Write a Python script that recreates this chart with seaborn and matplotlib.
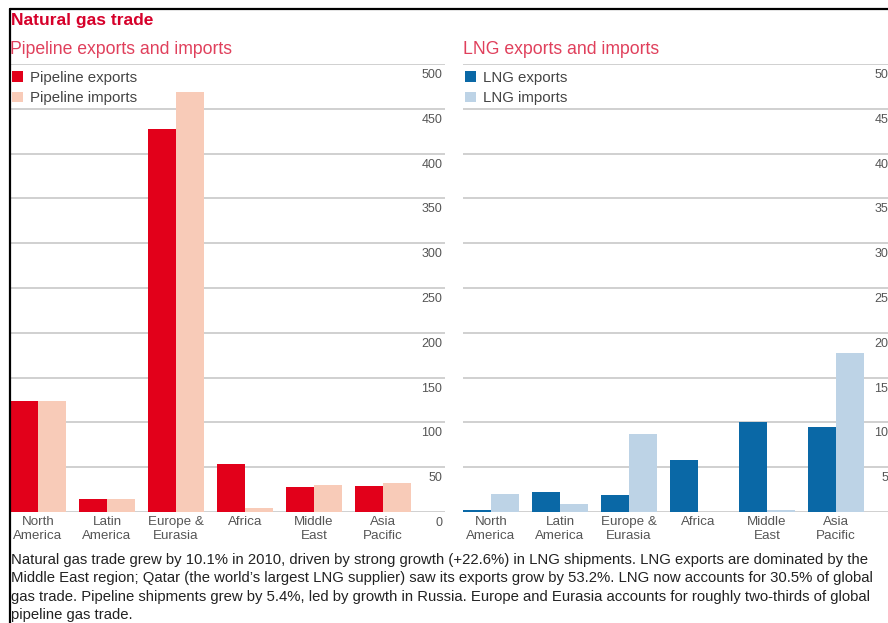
import matplotlib
matplotlib.use("Agg")
import matplotlib.pyplot as plt
import matplotlib.transforms as mtrans
from matplotlib.lines import Line2D
import seaborn as sns
import pandas as pd

regions = ["North\nAmerica", "Latin\nAmerica", "Europe &\nEurasia", "Africa", "Middle\nEast", "Asia\nPacific"]
pipeline_exports = [124, 14.5, 427, 53.5, 28, 29]
pipeline_imports = [124, 14, 469, 4.5, 30, 32]
lng_exports = [2, 22, 19, 58, 100.5, 95]
lng_imports = [20, 9, 87, 0, 2, 177]
y_ticks = [0, 50, 100, 150, 200, 250, 300, 350, 400, 450, 500]

caption = ("Natural gas trade grew by 10.1% in 2010, driven by strong growth (+22.6%) in LNG shipments. LNG exports are dominated by the\n"
           "Middle East region; Qatar (the world\u2019s largest LNG supplier) saw its exports grow by 53.2%. LNG now accounts for 30.5% of global\n"
           "gas trade. Pipeline shipments grew by 5.4%, led by growth in Russia. Europe and Eurasia accounts for roughly two-thirds of global\n"
           "pipeline gas trade.")

sns.set_theme(style="white")
plt.rcParams["font.family"] = ["Liberation Sans", "DejaVu Sans"]

W, H = 888, 623
fig = plt.figure(figsize=(W / 100, H / 100), dpi=100)
fig.patch.set_facecolor("white")

def px_axes(x0, x1, ytop, ybot):
    return fig.add_axes([x0 / W, 1 - ybot / H, (x1 - x0) / W, (ybot - ytop) / H])

GROUP_W = 0.81
XL = (-GROUP_W / 2, -GROUP_W / 2 + 435 / 69)

def panel(ax, exp, imp, lab_e, lab_i, col_e, col_i):
    df = pd.DataFrame({
        "region": regions * 2,
        "value": exp + imp,
        "type": [lab_e] * len(regions) + [lab_i] * len(regions),
    })
    sns.barplot(data=df, x="region", y="value", hue="type", order=regions,
                hue_order=[lab_e, lab_i], palette=[col_e, col_i], saturation=1,
                width=GROUP_W, linewidth=0, ax=ax, legend=True)
    ax.set_xlim(*XL)
    ax.set_ylim(0, 500)
    ax.set_yticks(y_ticks)
    ax.set_yticklabels([str(v) for v in y_ticks])
    ax.yaxis.tick_right()
    ax.yaxis.grid(True, color="#c4c4c4", linewidth=1.1)
    ax.set_axisbelow(True)
    ax.set_xlabel("")
    ax.set_ylabel("")
    for s in ax.spines.values():
        s.set_visible(False)
    ax.tick_params(axis="y", length=0, pad=-2, labelsize=9, labelcolor="#555555")
    ax.tick_params(axis="x", length=0, pad=3, labelsize=9.6, labelcolor="#555555")
    off = mtrans.ScaledTranslation(0, -5 / 100, fig.dpi_scale_trans)
    for t in ax.yaxis.get_major_ticks():
        t.label2.set_horizontalalignment("right")
        t.label2.set_verticalalignment("top")
        t.label2.set_transform(t.label2.get_transform() + off)
    for t in ax.get_xticklabels():
        t.set_linespacing(1.25)
    ax.legend(loc="upper left", bbox_to_anchor=(0.0, 0.99), frameon=False,
              fontsize=10.8, handlelength=0.7, handleheight=0.7,
              handletextpad=0.5, labelspacing=0.42, borderaxespad=0.0,
              borderpad=0.15, labelcolor="#444444")
    ax.patch.set_alpha(0)

ax1 = px_axes(10, 445, 64, 512)
panel(ax1, pipeline_exports, pipeline_imports, "Pipeline exports", "Pipeline imports",
      "#e2001a", "#f8cbb8")
ax2 = px_axes(463, 898, 64, 512)
panel(ax2, lng_exports, lng_imports, "LNG exports", "LNG imports",
      "#0a68a6", "#bdd3e6")

# titles
fig.text(11 / W, 1 - 20 / H, "Natural gas trade", fontsize=12.5, fontweight="bold",
         color="#d6002a", va="center", ha="left")
fig.text(10 / W, 1 - 49.5 / H, "Pipeline exports and imports", fontsize=12.7,
         color="#e0405c", va="center", ha="left")
fig.text(463 / W, 1 - 49.5 / H, "LNG exports and imports", fontsize=12.7,
         color="#e0405c", va="center", ha="left")

# caption
fig.text(11 / W, 1 - 553 / H, caption, fontsize=10.7, color="#222222",
         va="top", ha="left", linespacing=1.4)

# frame lines
fig.add_artist(Line2D([10 / W, 1], [1 - 9 / H, 1 - 9 / H], color="black", lw=1.6))
fig.add_artist(Line2D([10 / W, 10 / W], [1 - 9 / H, 0], color="black", lw=1.6))

fig.savefig("out.png", dpi=100)
